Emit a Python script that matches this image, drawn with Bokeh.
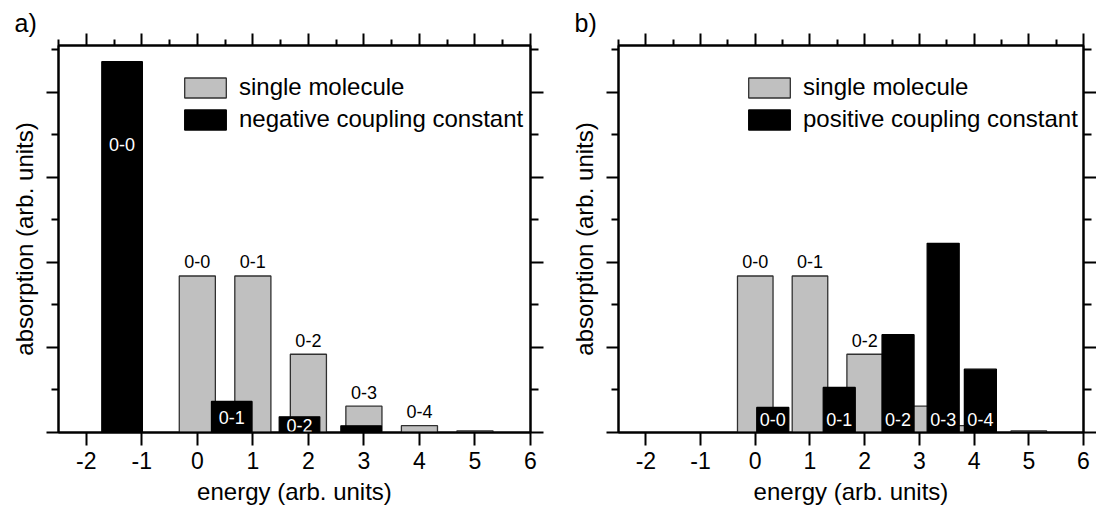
from bokeh.plotting import figure
from bokeh.layouts import row
from bokeh.models import (Range1d, LinearAxis, FixedTicker, Legend, LegendItem,
                          ColumnDataSource)
from bokeh.core.properties import value
from bokeh.embed import file_html
from bokeh.resources import INLINE

# ---------------- data ----------------
energies = [0, 1, 2, 3, 4, 5]
single_molecule = [1.84, 1.84, 0.92, 0.31, 0.08, 0.02]
single_labels_a = ["0-0", "0-1", "0-2", "0-3", "0-4", ""]
single_labels_b = ["0-0", "0-1", "0-2", "", "", ""]

neg_energy = [-1.355, 0.62, 1.84, 2.95]
neg_values = [4.36, 0.365, 0.184, 0.078]
neg_labels = ["0-0", "0-1", "0-2", ""]
neg_label_y = [3.39, 0.176, 0.08, 0.0]

pos_energy = [0.32, 1.535, 2.61, 3.435, 4.115]
pos_values = [0.294, 0.53, 1.149, 2.224, 0.745]
pos_labels = ["0-0", "0-1", "0-2", "0-3", "0-4"]
pos_label_y = [0.158, 0.158, 0.158, 0.158, 0.158]

x_ticks = [-2, -1, 0, 1, 2, 3, 4, 5, 6]
x_minor = [-2.5, -1.5, -0.5, 0.5, 1.5, 2.5, 3.5, 4.5, 5.5]
y_ticks = [0, 1, 2, 3, 4]
y_minor = [0.5, 1.5, 2.5, 3.5, 4.5]

FONT = "Liberation Sans"
GRAY = "#c0c0c0"


def style_axis(ax, major, minor, labels=False, major_len=12, minor_len=7):
    ax.ticker = FixedTicker(ticks=major, minor_ticks=minor)
    ax.axis_line_width = 2
    ax.axis_line_color = "black"
    ax.major_tick_line_width = 2
    ax.minor_tick_line_width = 2
    ax.major_tick_out = major_len
    ax.major_tick_in = 0
    ax.minor_tick_out = minor_len
    ax.minor_tick_in = 0
    if labels:
        ax.major_label_text_font = FONT
        ax.major_label_text_font_size = "23px"
        ax.major_label_text_color = "black"
        ax.major_label_standoff = 6
        ax.major_label_overrides = {t: str(t) for t in major}
    else:
        ax.major_label_text_font_size = "1px"
        ax.major_label_standoff = 0
        ax.major_label_overrides = {t: "" for t in major}
    ax.axis_label_text_font = FONT
    ax.axis_label_text_font_style = "normal"
    ax.axis_label_text_font_size = "24px"
    ax.axis_label_text_color = "black"


def make_panel(width, border_left, border_right, letter, gray_labels,
               blk_x, blk_v, blk_w, blk_labels, blk_label_y, legend_text, legend_loc):
    p = figure(width=width, height=512, x_range=Range1d(-2.5, 6), y_range=Range1d(0, 4.55),
               output_backend="svg", toolbar_location=None, title=letter,
               title_location="above",
               min_border_left=border_left, min_border_right=border_right,
               min_border_top=45, min_border_bottom=80)
    p.title.text_font = FONT
    p.title.text_font_size = "25px"
    p.title.text_font_style = "normal"
    p.title.text_color = "black"
    p.title.align = "left"
    p.title.offset = -44
    p.title.standoff = -6
    p.title.text_line_height = 1.0

    p.grid.visible = False
    p.outline_line_color = "black"
    p.outline_line_width = 2
    p.background_fill_color = "white"
    p.border_fill_color = "white"

    bx = p.xaxis[0]
    style_axis(bx, x_ticks, [], labels=True, major_len=13)
    bx.axis_label = "energy (arb. units)"
    bx.axis_label_standoff = 6

    ly = p.yaxis[0]
    style_axis(ly, y_ticks, y_minor, major_len=12, minor_len=7)
    ly.axis_label = "absorption (arb. units)"
    ly.axis_label_standoff = 9

    top = LinearAxis()
    style_axis(top, x_ticks, x_minor, major_len=12, minor_len=6)
    p.add_layout(top, "above")
    right = LinearAxis()
    style_axis(right, y_ticks, y_minor, major_len=13, minor_len=8)
    p.add_layout(right, "right")

    gsrc = ColumnDataSource(dict(x=energies, top=single_molecule, label=gray_labels))
    g = p.vbar(x="x", top="top", bottom=0, width=0.65, source=gsrc,
               fill_color=GRAY, line_color="#303030", line_width=1.3)
    bsrc = ColumnDataSource(dict(x=blk_x, top=blk_v, label=blk_labels, ly=blk_label_y))
    b = p.vbar(x="x", top="top", bottom=0, width=blk_w, source=bsrc,
               fill_color="black", line_color="black", line_width=1.3)

    p.text(x="x", y="top", text="label", source=gsrc, text_align="center",
           text_baseline="middle", y_offset=-14, text_font=value(FONT),
           text_font_size="18px", text_color="black")
    p.text(x="x", y="ly", text="label", source=bsrc, text_align="center",
           text_baseline="middle", text_font=value(FONT),
           text_font_size="18px", text_color="white")

    legend = Legend(items=[LegendItem(label="single molecule", renderers=[g]),
                           LegendItem(label=legend_text, renderers=[b])],
                    location=legend_loc, glyph_width=52, glyph_height=25,
                    label_height=25, label_standoff=8, spacing=4, padding=0, margin=0,
                    border_line_color=None, background_fill_alpha=0,
                    label_text_font=FONT, label_text_font_size="24px",
                    label_text_color="black")
    p.add_layout(legend)
    return p


pa = make_panel(567, 58, 37, "a)", single_labels_a, neg_energy, neg_values, 0.73,
                neg_labels, neg_label_y, "negative coupling constant", (121, 299))
pb = make_panel(529, 48, 11, "b)", single_labels_b, pos_energy, pos_values, 0.585,
                pos_labels, pos_label_y, "positive coupling constant", (125, 299))

layout = row(pa, pb)
open("out.html", "w").write(file_html(layout, INLINE))
